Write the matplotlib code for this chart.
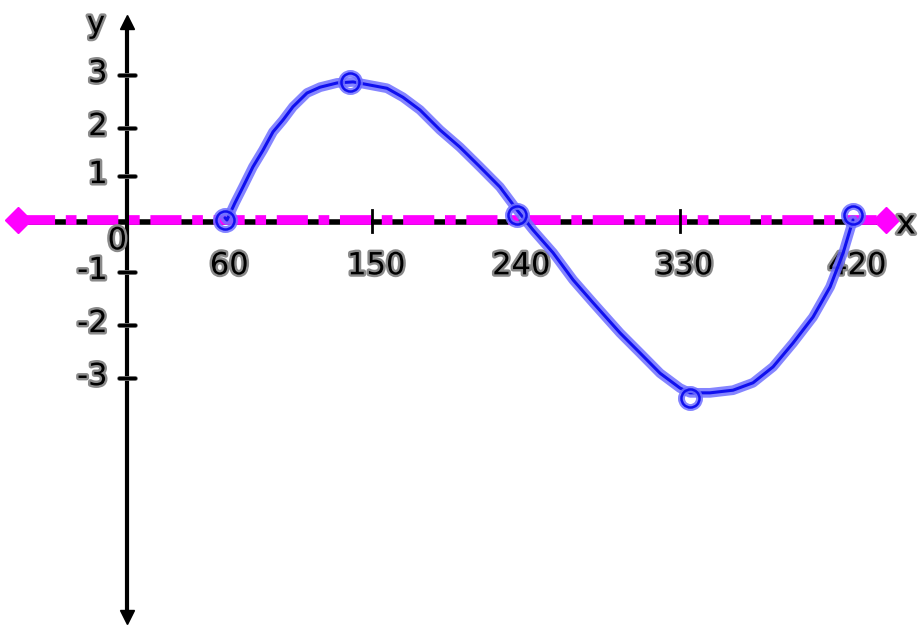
import numpy as np
import matplotlib
matplotlib.use("Agg")
import matplotlib.pyplot as plt
import matplotlib.patheffects as pe

# hand-drawn axes: where each labelled value sits on the sheet (pixels)
x_knots = [0, 60, 150, 240, 330, 420]
x_knot_px = [127, 225, 372, 517, 680, 853]
y_knots = [-3, -2, -1, 0, 1, 2, 3]
y_knot_px = [247, 300, 353, 405, 449, 497, 550]   # measured from the bottom edge

# traced blue curve
curve_x = [60, 61.2, 66.1, 71.0, 77.1, 83.3, 89.4, 95.5, 101.6, 110.2, 118.2,
           128.6, 138.4, 148.8, 159.3, 169.2, 179.8, 192.2, 204.6, 217.0, 229.4,
           240, 248.8, 259.9, 271.0, 282.0, 296.9, 308.0, 319.0, 330,
           335.2, 345.6, 357.6, 368.0, 378.4, 388.8, 399.2, 408.1, 414.9, 420]
curve_y = [0.05, 0.0, 0.39, 0.75, 1.19, 1.54, 1.92, 2.15, 2.40, 2.66, 2.77,
           2.85, 2.87, 2.81, 2.75, 2.58, 2.34, 1.96, 1.60, 1.19, 0.75,
           0.23, -0.19, -0.63, -1.15, -1.58, -2.15, -2.53, -2.91, -3.19,
           -3.28, -3.28, -3.23, -3.09, -2.79, -2.34, -1.85, -1.28, -0.63, 0.0]

# circled points
pts_x = [60, 136.5, 240, 335.2, 420]
pts_y = [0.0, 2.87, 0.11, -3.38, 0.11]

x_ticks = [60, 150, 240, 330, 420]
x_labels = ["60", "150", "240", "330", "420"]
y_ticks = [3, 2, 1, -1, -2, -3]
y_labels = ["3", "2", "1", "-1", "-2", "-3"]


def piecewise(v, xs, ys):
    v = np.asarray(v, dtype=float)
    out = np.interp(v, xs, ys)
    lo_slope = (ys[1] - ys[0]) / (xs[1] - xs[0])
    hi_slope = (ys[-1] - ys[-2]) / (xs[-1] - xs[-2])
    out = np.where(v < xs[0], ys[0] + (v - xs[0]) * lo_slope, out)
    out = np.where(v > xs[-1], ys[-1] + (v - xs[-1]) * hi_slope, out)
    return out


xf = lambda v: piecewise(v, x_knots, x_knot_px)
xi = lambda p: piecewise(p, x_knot_px, x_knots)
yf = lambda v: piecewise(v, y_knots, y_knot_px)
yi = lambda p: piecewise(p, y_knot_px, y_knots)

fig = plt.figure(figsize=(9.18, 6.25), dpi=100)
ax = fig.add_axes([0, 0, 1, 1])
ax.set_xscale("function", functions=(xf, xi))
ax.set_yscale("function", functions=(yf, yi))
ax.set_xlim(float(xi(0)), float(xi(918)))
ax.set_ylim(float(yi(0)), float(yi(625)))
ax.axis("off")

halo = [pe.withStroke(linewidth=3.5, foreground="#8a8a8a")]
txt = dict(fontsize=22, color="black", path_effects=halo)

px = lambda p: float(xi(p))
py = lambda p: float(yi(625 - p))

# y axis with arrows
ax.plot([0, 0], [py(612), py(22)], color="black", lw=3, zorder=2)
ax.plot([0], [py(22)], marker="^", ms=10, color="black", zorder=2)
ax.plot([0], [py(617)], marker="v", ms=10, color="black", zorder=2)

# x axis (black) under magenta dash-dot line
ax.plot([px(22), px(882)], [py(222), py(222)], color="black", lw=4, zorder=2)
ax.plot([px(24), px(880)], [0, 0], color="#ff00ff", lw=7,
        dashes=(3.2, 1.1, 1.1, 1.1), solid_capstyle="butt", dash_capstyle="butt",
        zorder=3)
ax.plot([px(18), px(886)], [0, 0], ls="none", marker="D", ms=13, color="#ff00ff",
        zorder=3)

# tick marks
for v in y_ticks:
    ax.plot([px(119), px(135)], [v, v], color="black", lw=2.5,
            solid_capstyle="round", path_effects=halo, zorder=2)
for v in [150, 330]:
    ax.plot([v, v], [py(232), py(210)], color="black", lw=2, zorder=4)

# tick labels
for v, lbl in zip(y_ticks, y_labels):
    ax.annotate(lbl, (0, v), xytext=(-14, 1), textcoords="offset points",
                ha="right", va="center", **txt)
ax.annotate("0", (0, 0), xytext=(-7, -15), textcoords="offset points",
            ha="center", va="center", **txt)
for v, lbl in zip(x_ticks, x_labels):
    ax.annotate(lbl, (v, 0), xytext=(3, -33), textcoords="offset points",
                ha="center", va="center", **txt)
ax.annotate("y", (px(96), py(24)), ha="center", va="center", **txt)
ax.annotate("x", (px(906), py(224)), ha="center", va="center",
            fontsize=24, color="black", path_effects=halo)

# blue curve with a soft halo
blue_fx = [pe.Stroke(linewidth=7, foreground="#7070ff", alpha=0.85), pe.Normal()]
ax.plot(curve_x, curve_y, color="#1010ee", lw=2.2, zorder=5,
        solid_joinstyle="round", solid_capstyle="round", path_effects=blue_fx)
ax.plot(pts_x, pts_y, ls="none", marker="o", ms=13, mfc="none",
        mec="#7070ff", mew=5, alpha=0.85, zorder=6)
ax.plot(pts_x, pts_y, ls="none", marker="o", ms=13, mfc="none",
        mec="#1010ee", mew=1.8, zorder=7)

fig.savefig("out.png", dpi=100)
